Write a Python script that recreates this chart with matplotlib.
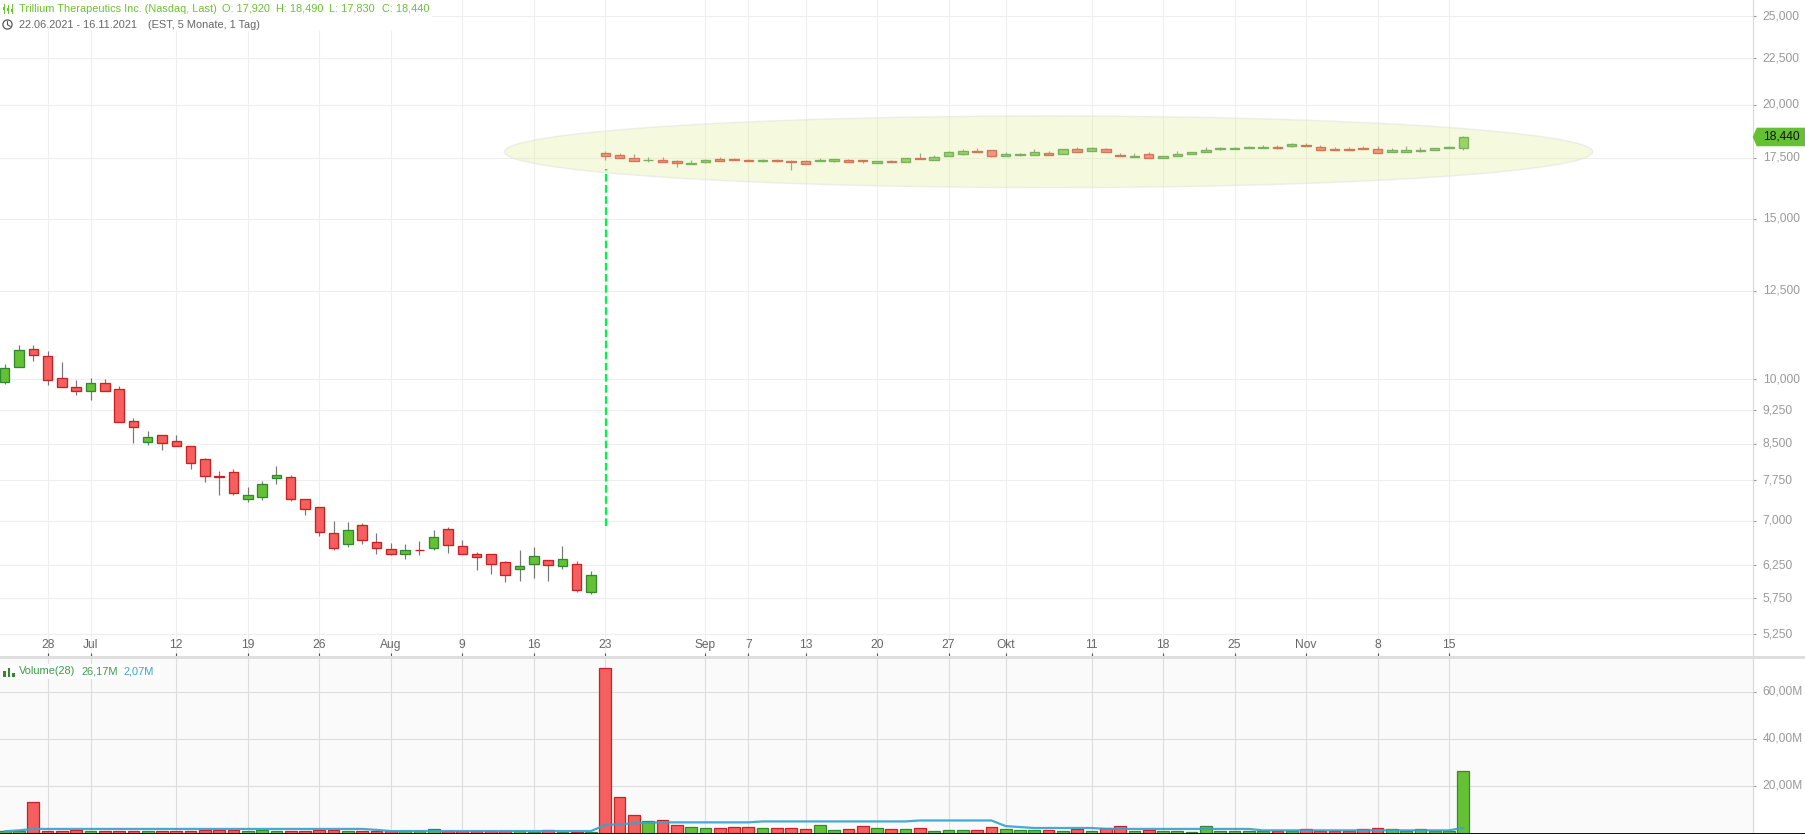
import numpy as np
import matplotlib
matplotlib.use("Agg")
import matplotlib.pyplot as plt
from matplotlib.patches import Ellipse, Polygon, Rectangle, Circle
from matplotlib.lines import Line2D
from matplotlib.ticker import FixedLocator, FuncFormatter, NullLocator
from matplotlib.transforms import IdentityTransform, ScaledTranslation

plt.rcParams['font.family'] = ['Liberation Sans', 'DejaVu Sans']

# ---------- data ----------
highs = [10.39,10.91,10.91,10.73,10.45,9.98,10.03,10.01,9.83,9.07,8.77,8.68,8.69,8.46,8.20,7.93,7.97,7.62,7.74,8.04,7.85,
         7.40,7.24,6.99,6.97,6.96,6.78,6.61,6.60,6.65,6.84,6.89,6.66,6.46,6.43,6.32,6.50,6.55,6.33,6.57,6.32,6.16,
         17.78,17.69,17.65,17.51,17.51,17.41,17.38,17.43,17.51,17.47,17.43,17.43,17.43,17.38,17.41,17.47,17.46,17.43,17.38,17.37,17.38,
         17.50,17.69,17.60,17.78,17.87,17.92,17.86,17.77,17.69,17.87,17.78,17.90,17.96,17.96,17.92,17.69,17.69,17.74,17.59,17.78,17.77,
         17.96,17.96,17.99,18.01,18.05,18.05,18.14,18.14,18.05,17.96,17.96,18.01,18.01,17.92,18.01,17.96,17.95,18.01,18.49]
body_tops = [10.28,10.76,10.79,10.60,10.03,9.80,9.90,9.90,9.75,8.99,8.64,8.68,8.55,8.44,8.17,7.83,7.91,7.46,7.67,7.85,7.81,
             7.40,7.24,6.78,6.83,6.92,6.63,6.51,6.49,6.50,6.71,6.85,6.56,6.43,6.43,6.30,6.24,6.40,6.33,6.35,6.27,6.10,
             17.72,17.63,17.50,17.41,17.41,17.34,17.25,17.41,17.46,17.43,17.38,17.38,17.38,17.37,17.37,17.38,17.46,17.41,17.38,17.34,17.34,
             17.50,17.50,17.54,17.77,17.81,17.81,17.86,17.68,17.68,17.77,17.72,17.90,17.90,17.95,17.90,17.63,17.59,17.68,17.59,17.68,17.77,
             17.86,17.95,17.95,17.99,17.96,17.96,18.13,18.08,17.99,17.90,17.90,17.92,17.90,17.86,17.86,17.86,17.95,17.99,18.44]
body_bots = [9.92,10.31,10.62,9.97,9.80,9.70,9.70,9.70,8.97,8.86,8.53,8.51,8.46,8.09,7.83,7.81,7.50,7.40,7.42,7.79,7.39,
             7.20,6.80,6.53,6.59,6.66,6.53,6.43,6.43,6.49,6.53,6.58,6.43,6.38,6.28,6.10,6.19,6.27,6.25,6.24,5.87,5.84,
             17.57,17.49,17.35,17.40,17.31,17.27,17.22,17.31,17.35,17.40,17.35,17.34,17.35,17.31,17.22,17.35,17.35,17.31,17.35,17.27,17.31,
             17.31,17.44,17.40,17.57,17.66,17.75,17.57,17.57,17.62,17.62,17.62,17.68,17.75,17.80,17.75,17.57,17.53,17.49,17.49,17.57,17.68,
             17.75,17.89,17.89,17.93,17.93,17.93,18.02,18.02,17.86,17.86,17.86,17.89,17.71,17.75,17.75,17.80,17.86,17.93,17.92]
lows = [9.89,10.31,10.48,9.86,9.80,9.60,9.48,9.70,8.97,8.52,8.48,8.37,8.44,7.98,7.72,7.47,7.47,7.34,7.38,7.68,7.36,
        7.10,6.74,6.50,6.55,6.60,6.44,6.41,6.36,6.42,6.49,6.45,6.43,6.18,6.12,6.00,6.01,6.06,6.01,6.20,5.85,5.81,
        17.40,17.49,17.35,17.31,17.31,17.08,17.22,17.25,17.35,17.40,17.35,17.31,17.31,16.95,17.22,17.35,17.29,17.31,17.25,17.27,17.31,
        17.31,17.44,17.40,17.57,17.62,17.75,17.51,17.57,17.57,17.62,17.62,17.68,17.75,17.80,17.75,17.57,17.53,17.49,17.49,17.57,17.68,
        17.75,17.84,17.89,17.93,17.93,17.89,17.98,18.02,17.86,17.86,17.86,17.89,17.71,17.75,17.75,17.75,17.86,17.93,17.83]
candle_dir = ("GGRRRRGRRRGRRRRRRGGGRRRRGRRRGRGRRRRRGGRGRG"[:42]
              + "RRRGRRGGRRRGRRRGGRRGRGRGGGRRGGGRGRGRRGRGGGGGGGGRGRRRRRRGGGGGG")
volumes = [0.7,0.7,12.9,0.6,0.6,1.0,0.6,0.6,0.6,0.6,0.6,0.6,0.6,0.6,1.0,1.0,1.0,0.6,1.1,0.6,0.6,
           0.6,1.0,1.0,0.6,0.6,0.6,0.6,0.6,0.6,1.4,0.6,0.6,0.6,0.6,0.6,0.6,0.5,1.0,0.5,0.4,0.5,
           69.9,15.1,7.4,4.8,5.2,3.1,2.3,1.8,1.8,2.3,2.3,1.8,1.8,1.8,1.4,3.1,1.0,1.4,2.7,1.8,1.4,
           1.4,1.8,0.6,1.0,1.0,1.0,2.3,1.4,1.0,1.0,1.0,0.6,1.4,0.6,1.8,2.7,0.6,1.0,0.6,0.6,0.2,
           2.7,0.6,0.6,0.6,0.6,0.6,0.6,1.4,0.6,0.6,0.6,1.4,1.8,1.4,0.8,1.4,0.8,0.8,26.17]
volume_dir = candle_dir[:29] + "G" + candle_dir[30:]
volume_ma = [0.6,1.0] + [1.6]*24 + [1.2] + [0.7]*15 + [3.3,3.6,4.0,4.2,4.4] + [4.4]*6 + [4.8]*11 \
            + [5.2]*6 + [2.8,2.4,2.0,2.0,2.0,2.0,2.0] + [1.6]*11 + [1.0]*14 + [2.07]
tick_pos = [3,6,12,17,22,27,32,37,42,49,52,56,61,66,70,76,81,86,91,96,101]
tick_labels = ['28','Jul','12','19','26','Aug','9','16','23','Sep','7','13','20','27','Okt','11','18','25','Nov','8','15']
price_ticks = [5.25,5.75,6.25,7,7.75,8.5,9.25,10,12.5,15,17.5,20,22.5,25]
volume_ticks = [20,40,60]
gap_low, gap_high = 6.91, 16.99
gap_day = 42

assert len(highs)==len(lows)==len(body_tops)==len(body_bots)==len(candle_dir)==len(volumes)==len(volume_ma)==103

# ---------- layout ----------
W, H = 1806, 834
AX_R = 1752.7
DAY = 14.3
X0 = 4.7
def rect(l, t, r, b):
    return [l/W, 1-b/H, (r-l)/W, (b-t)/H]

GREEN, GREEN_E = '#66c034', '#2f8a2f'
RED, RED_E = '#f55f5f', '#c92222'
px = 72/100  # points per pixel at dpi 100

fig = plt.figure(figsize=(W/100, H/100), dpi=100, facecolor='white')
ax = fig.add_axes(rect(0, 0, AX_R, 656))
vol = fig.add_axes(rect(0, 659, AX_R, 832.7))
vol.set_facecolor('#fafafa')
xlim = (-X0/DAY, (AX_R-X0)/DAY)

x = np.arange(len(highs))
highs, lows, body_tops, body_bots, volumes = map(np.array, (highs, lows, body_tops, body_bots, volumes))
is_up = np.array([c == 'G' for c in candle_dir])
vol_up = np.array([c == 'G' for c in volume_dir])

# ---------- price panel ----------
ax.set_yscale('log')
ax.set_xlim(*xlim)
ax.set_ylim(4.972, 26.06)
ax.vlines(x, lows, highs, color='#777777', lw=1*px*1.2, zorder=2)
ax.bar(x, body_tops-body_bots, bottom=body_bots, width=0.66,
       color=[GREEN if u else RED for u in is_up],
       edgecolor=[GREEN_E if u else RED_E for u in is_up], linewidth=0.95, zorder=2.5)
ax.add_patch(Ellipse((((504.5+1592.7)/2)/AX_R, 1-151.8/656), (1592.7-504.5)/AX_R, (187.7-116)/656,
                     transform=ax.transAxes, facecolor=(230/255, 240/255, 172/255, 0.4),
                     edgecolor=(0.88, 0.88, 0.88, 0.5), lw=1, zorder=3))
ax.plot([gap_day+0.03, gap_day+0.03], [gap_low, gap_high], color='#00f54a', lw=1.6,
        linestyle=(0, (3.4, 1.6)), dash_capstyle='butt', zorder=4)

ax.yaxis.set_major_locator(FixedLocator(price_ticks))
ax.yaxis.set_minor_locator(NullLocator())
ax.yaxis.set_major_formatter(FuncFormatter(lambda v, p: f"{v:.3f}".replace('.', ',')))
ax.yaxis.tick_right()
ax.xaxis.set_major_locator(FixedLocator(tick_pos))
ax.xaxis.set_minor_locator(NullLocator())
ax.set_xticklabels(tick_labels)
ax.grid(True, which='major', color='#eeeeee', lw=0.8, zorder=0)
ax.set_axisbelow(True)
ax.tick_params(axis='y', length=3*px, width=0.8, color='#999999', labelcolor='#999999', labelsize=12*px, pad=5)
ax.tick_params(axis='x', direction='in', length=3*px, width=0.8, color='#555555', labelcolor='#666666',
               labelsize=12*px, pad=-12.5)
off = ScaledTranslation(0, 1.5/100, fig.dpi_scale_trans)
for lab in ax.get_yticklabels():
    lab.set_transform(lab.get_transform() + off)
for s in ('top', 'left', 'bottom'):
    ax.spines[s].set_visible(False)
ax.spines['right'].set_color('#d8d8d8')

# ---------- volume panel ----------
vol.set_xlim(*xlim)
vol.set_ylim(0, 73.9)
vol.bar(x, volumes, width=0.82,
        color=[GREEN if u else RED for u in vol_up],
        edgecolor=[GREEN_E if u else RED_E for u in vol_up], linewidth=0.9, zorder=2)
vol.plot(x, volume_ma, color='#38a3cf', lw=1.6, alpha=0.92, zorder=3)
vol.yaxis.set_major_locator(FixedLocator(volume_ticks))
vol.yaxis.set_major_formatter(FuncFormatter(lambda v, p: f"{v:.2f}M".replace('.', ',')))
vol.yaxis.tick_right()
vol.xaxis.set_major_locator(FixedLocator(tick_pos))
vol.tick_params(axis='x', length=0, labelbottom=False)
vol.tick_params(axis='y', length=3*px, width=0.8, color='#999999', labelcolor='#999999', labelsize=12*px, pad=5)
for lab in vol.get_yticklabels():
    lab.set_transform(lab.get_transform() + off)
vol.grid(True, color='#dddddd', lw=0.8, zorder=0)
vol.set_axisbelow(True)
for s in ('top', 'left', 'bottom'):
    vol.spines[s].set_visible(False)
vol.spines['right'].set_color('#d8d8d8')

# ---------- chrome in pixel space ----------
I = IdentityTransform()
def R(l, t, r, b, c, z=1):
    fig.add_artist(Rectangle((l, H-b), r-l, b-t, transform=I, facecolor=c, edgecolor='none', zorder=z))
def T(xp, yp, s, c, size=11, **kw):
    fig.text(xp, H-yp, s, color=c, fontsize=size*px, va='center', ha='left', transform=I, zorder=5, **kw)

R(0, 656, W, 658.7, '#dedede')
R(0, 832.7, W, 834, '#111111')
R(0, 1, 432, 31, 'white')
R(1, 664, 160, 679, 'white')

# header
HG = '#6cc233'
T(19, 8.5, 'Trillium Therapeutics Inc. (Nasdaq, Last)', HG)
T(222, 8.5, 'O: 17,920', HG)
T(276, 8.5, 'H: 18,490', HG)
T(329, 8.5, 'L: 17,830', HG)
T(382, 8.5, 'C: 18,440', HG)
T(19, 24.5, '22.06.2021 - 16.11.2021', '#666666')
T(148, 24.5, '(EST, 5 Monate, 1 Tag)', '#666666')
for cx, t, b, bt, bb in [(4, 4, 13, 7, 10), (8, 5, 13, 8, 11), (12, 4, 13, 9, 12)]:
    fig.add_artist(Line2D([cx, cx], [H-t, H-b], transform=I, color=HG, lw=0.7, zorder=5))
    R(cx-1.2, bt, cx+1.2, bb, HG, 5)
fig.add_artist(Circle((7.5, H-24.5), 4.6, transform=I, facecolor='none', edgecolor='#555555', lw=0.9, zorder=5))
fig.add_artist(Line2D([7.5, 7.5, 10], [H-21.5, H-24.8, H-26.2], transform=I, color='#555555', lw=0.8, zorder=5))

# volume legend
for l, t in [(3, 671), (7.5, 667.5), (12, 673)]:
    R(l, t, l+2.8, 677, '#2f8a2f', 5)
T(19, 671, 'Volume(28)', '#3f9a4a')
T(81, 671, '26,17M', '#3f9a4a')
T(123, 671, '2,07M', '#38a3cf')

# last price tag
yc = ax.transData.transform((0, body_tops[-1]))[1]
fig.add_artist(Polygon([(AX_R, yc), (AX_R+4, yc+9.3), (W, yc+9.3), (W, yc-9.3), (AX_R+4, yc-9.3)],
                       closed=True, transform=I, facecolor='#66c034', edgecolor='none', zorder=4))
fig.text(1762.7, yc, f"{body_tops[-1]:.3f}".replace('.', ','), color='#111111', fontsize=12*px,
         va='center', ha='left', transform=I, zorder=5)

fig.savefig('out.png', dpi=100, facecolor='white')
